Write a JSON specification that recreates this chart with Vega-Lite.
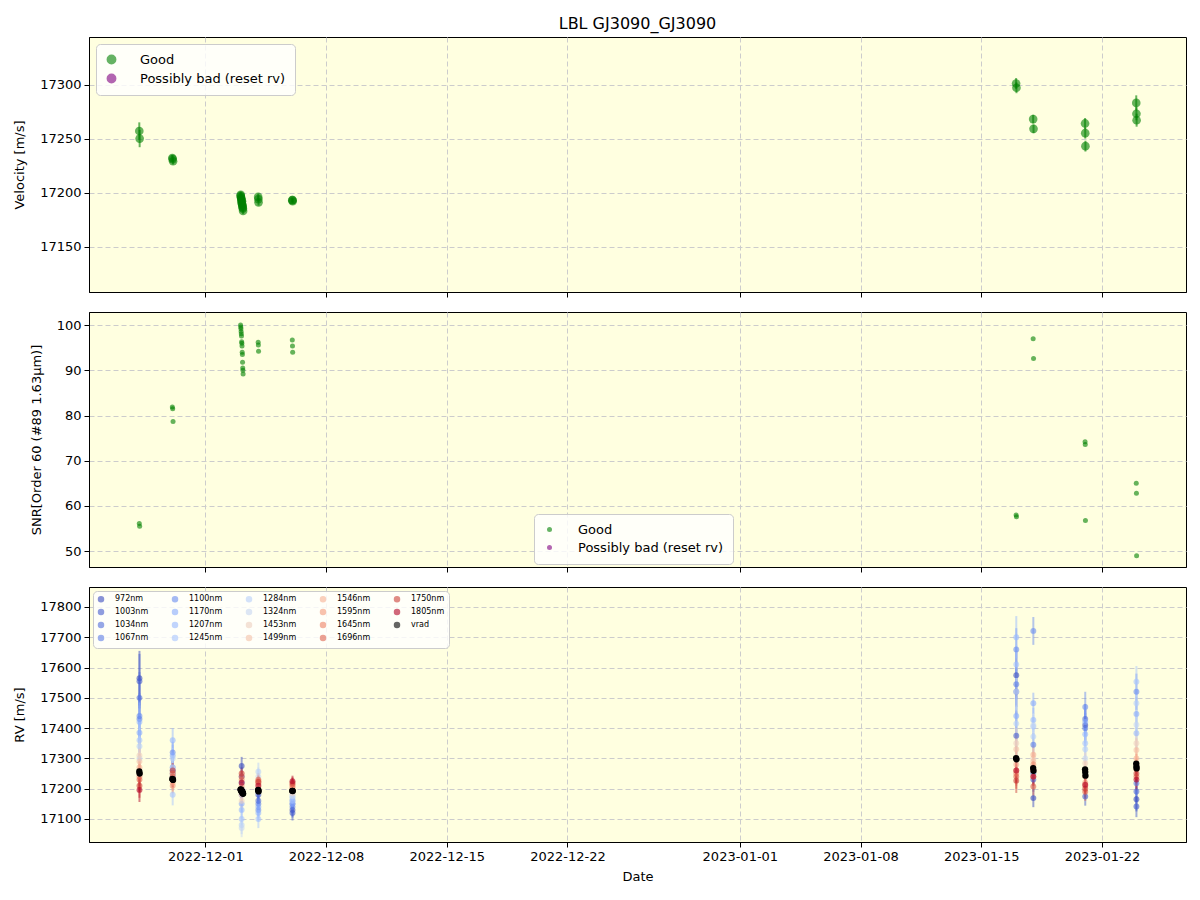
{
  "$schema": "https://vega.github.io/schema/vega-lite/v6.json",
  "padding": {"left": 13, "top": 15, "right": 8, "bottom": 10},
  "title": {"text": "LBL GJ3090_GJ3090", "fontSize": 16, "fontWeight": "normal", "anchor": "middle", "frame": "group", "offset": 5, "color": "black"},
  "config": {
    "font": "DejaVu Sans",
    "view": {"fill": "#ffffe0", "stroke": "black", "strokeWidth": 1},
    "axis": {"gridDash": [5, 3], "gridColor": "#cccccc", "gridWidth": 1, "labelFontSize": 13, "titleFontSize": 13, "titleFontWeight": "normal", "tickColor": "black", "domainColor": "black", "labelColor": "black", "titleColor": "black", "tickSize": 5, "labelPadding": 3},
    "axisY": {"titlePadding": 13},
    "legend": {"labelFontSize": 13, "labelColor": "black", "fillColor": "rgba(255,255,255,0.8)", "strokeColor": "#cccccc", "cornerRadius": 4, "padding": 8, "symbolType": "circle", "title": null}
  },
  "datasets": {
    "obs": [
      {"date": "2022-11-27T04:00:00Z", "rv": 17257, "err": 8, "snr": 56.1, "flag": "Good"},
      {"date": "2022-11-27T04:30:00Z", "rv": 17250, "err": 8, "snr": 55.5, "flag": "Good"},
      {"date": "2022-11-29T02:00:00Z", "rv": 17232, "err": 3, "snr": 81.9, "flag": "Good"},
      {"date": "2022-11-29T02:30:00Z", "rv": 17231, "err": 3, "snr": 81.5, "flag": "Good"},
      {"date": "2022-11-29T03:00:00Z", "rv": 17229, "err": 3, "snr": 78.7, "flag": "Good"},
      {"date": "2022-12-03T01:00:00Z", "rv": 17197, "err": 3, "snr": 100.0, "flag": "Good"},
      {"date": "2022-12-03T01:15:00Z", "rv": 17198, "err": 3, "snr": 99.6, "flag": "Good"},
      {"date": "2022-12-03T01:30:00Z", "rv": 17196, "err": 3, "snr": 99.2, "flag": "Good"},
      {"date": "2022-12-03T01:45:00Z", "rv": 17195, "err": 3, "snr": 98.6, "flag": "Good"},
      {"date": "2022-12-03T02:00:00Z", "rv": 17194, "err": 3, "snr": 98.1, "flag": "Good"},
      {"date": "2022-12-03T02:15:00Z", "rv": 17193, "err": 3, "snr": 97.6, "flag": "Good"},
      {"date": "2022-12-03T02:30:00Z", "rv": 17191, "err": 3, "snr": 96.3, "flag": "Good"},
      {"date": "2022-12-03T02:45:00Z", "rv": 17190, "err": 3, "snr": 96.0, "flag": "Good"},
      {"date": "2022-12-03T03:00:00Z", "rv": 17192, "err": 3, "snr": 95.4, "flag": "Good"},
      {"date": "2022-12-03T03:15:00Z", "rv": 17189, "err": 3, "snr": 94.0, "flag": "Good"},
      {"date": "2022-12-03T03:30:00Z", "rv": 17188, "err": 3, "snr": 93.5, "flag": "Good"},
      {"date": "2022-12-03T03:45:00Z", "rv": 17187, "err": 3, "snr": 91.8, "flag": "Good"},
      {"date": "2022-12-03T04:00:00Z", "rv": 17186, "err": 3, "snr": 90.5, "flag": "Good"},
      {"date": "2022-12-03T04:15:00Z", "rv": 17185, "err": 3, "snr": 90.0, "flag": "Good"},
      {"date": "2022-12-03T04:30:00Z", "rv": 17183, "err": 3, "snr": 89.2, "flag": "Good"},
      {"date": "2022-12-04T01:30:00Z", "rv": 17196, "err": 3, "snr": 96.2, "flag": "Good"},
      {"date": "2022-12-04T01:45:00Z", "rv": 17194, "err": 3, "snr": 95.6, "flag": "Good"},
      {"date": "2022-12-04T02:00:00Z", "rv": 17191, "err": 3, "snr": 94.2, "flag": "Good"},
      {"date": "2022-12-06T01:00:00Z", "rv": 17193, "err": 2, "snr": 96.7, "flag": "Good"},
      {"date": "2022-12-06T01:15:00Z", "rv": 17193, "err": 2, "snr": 95.4, "flag": "Good"},
      {"date": "2022-12-06T01:30:00Z", "rv": 17192, "err": 2, "snr": 94.0, "flag": "Good"},
      {"date": "2023-01-17T00:30:00Z", "rv": 17301, "err": 5, "snr": 58.0, "flag": "Good"},
      {"date": "2023-01-17T01:00:00Z", "rv": 17297, "err": 5, "snr": 57.6, "flag": "Good"},
      {"date": "2023-01-18T00:15:00Z", "rv": 17268, "err": 4, "snr": 97.0, "flag": "Good"},
      {"date": "2023-01-18T00:45:00Z", "rv": 17259, "err": 4, "snr": 92.6, "flag": "Good"},
      {"date": "2023-01-21T00:30:00Z", "rv": 17264, "err": 5, "snr": 74.2, "flag": "Good"},
      {"date": "2023-01-21T00:45:00Z", "rv": 17255, "err": 5, "snr": 73.6, "flag": "Good"},
      {"date": "2023-01-21T01:00:00Z", "rv": 17243, "err": 5, "snr": 56.8, "flag": "Good"},
      {"date": "2023-01-23T23:45:00Z", "rv": 17283, "err": 7, "snr": 65.0, "flag": "Good"},
      {"date": "2023-01-24T00:00:00Z", "rv": 17273, "err": 6, "snr": 62.8, "flag": "Good"},
      {"date": "2023-01-24T00:15:00Z", "rv": 17267, "err": 6, "snr": 49.0, "flag": "Good"}
    ],
    "bands": [
      {"date": "2022-11-27T04:15:00Z", "band": "972nm", "rv": 17565, "err": 90},
      {"date": "2022-11-27T04:15:00Z", "band": "1003nm", "rv": 17555, "err": 90},
      {"date": "2022-11-27T04:15:00Z", "band": "1034nm", "rv": 17500, "err": 85},
      {"date": "2022-11-27T04:15:00Z", "band": "1067nm", "rv": 17430, "err": 85},
      {"date": "2022-11-27T04:15:00Z", "band": "1100nm", "rv": 17440, "err": 70},
      {"date": "2022-11-27T04:15:00Z", "band": "1170nm", "rv": 17385, "err": 65},
      {"date": "2022-11-27T04:15:00Z", "band": "1207nm", "rv": 17420, "err": 65},
      {"date": "2022-11-27T04:15:00Z", "band": "1245nm", "rv": 17360, "err": 60},
      {"date": "2022-11-27T04:15:00Z", "band": "1284nm", "rv": 17340, "err": 60},
      {"date": "2022-11-27T04:15:00Z", "band": "1324nm", "rv": 17300, "err": 55},
      {"date": "2022-11-27T04:15:00Z", "band": "1453nm", "rv": 17310, "err": 50},
      {"date": "2022-11-27T04:15:00Z", "band": "1499nm", "rv": 17290, "err": 45},
      {"date": "2022-11-27T04:15:00Z", "band": "1546nm", "rv": 17270, "err": 45},
      {"date": "2022-11-27T04:15:00Z", "band": "1595nm", "rv": 17250, "err": 40},
      {"date": "2022-11-27T04:15:00Z", "band": "1645nm", "rv": 17240, "err": 40},
      {"date": "2022-11-27T04:15:00Z", "band": "1696nm", "rv": 17230, "err": 40},
      {"date": "2022-11-27T04:15:00Z", "band": "1750nm", "rv": 17210, "err": 40},
      {"date": "2022-11-27T04:15:00Z", "band": "1805nm", "rv": 17196, "err": 40},
      {"date": "2022-11-29T02:30:00Z", "band": "972nm", "rv": 17250, "err": 40},
      {"date": "2022-11-29T02:30:00Z", "band": "1003nm", "rv": 17260, "err": 40},
      {"date": "2022-11-29T02:30:00Z", "band": "1034nm", "rv": 17240, "err": 38},
      {"date": "2022-11-29T02:30:00Z", "band": "1067nm", "rv": 17270, "err": 38},
      {"date": "2022-11-29T02:30:00Z", "band": "1100nm", "rv": 17320, "err": 35},
      {"date": "2022-11-29T02:30:00Z", "band": "1170nm", "rv": 17310, "err": 35},
      {"date": "2022-11-29T02:30:00Z", "band": "1207nm", "rv": 17360, "err": 40},
      {"date": "2022-11-29T02:30:00Z", "band": "1245nm", "rv": 17180, "err": 35},
      {"date": "2022-11-29T02:30:00Z", "band": "1284nm", "rv": 17300, "err": 35},
      {"date": "2022-11-29T02:30:00Z", "band": "1324nm", "rv": 17270, "err": 30},
      {"date": "2022-11-29T02:30:00Z", "band": "1453nm", "rv": 17250, "err": 30},
      {"date": "2022-11-29T02:30:00Z", "band": "1499nm", "rv": 17230, "err": 28},
      {"date": "2022-11-29T02:30:00Z", "band": "1546nm", "rv": 17220, "err": 28},
      {"date": "2022-11-29T02:30:00Z", "band": "1595nm", "rv": 17210, "err": 25},
      {"date": "2022-11-29T02:30:00Z", "band": "1645nm", "rv": 17250, "err": 25},
      {"date": "2022-11-29T02:30:00Z", "band": "1696nm", "rv": 17240, "err": 25},
      {"date": "2022-11-29T02:30:00Z", "band": "1750nm", "rv": 17260, "err": 25},
      {"date": "2022-11-29T02:30:00Z", "band": "1805nm", "rv": 17230, "err": 25},
      {"date": "2022-12-03T02:30:00Z", "band": "972nm", "rv": 17275, "err": 30},
      {"date": "2022-12-03T02:30:00Z", "band": "1003nm", "rv": 17240, "err": 30},
      {"date": "2022-12-03T02:30:00Z", "band": "1034nm", "rv": 17220, "err": 30},
      {"date": "2022-12-03T02:30:00Z", "band": "1067nm", "rv": 17200, "err": 30},
      {"date": "2022-12-03T02:30:00Z", "band": "1100nm", "rv": 17180, "err": 28},
      {"date": "2022-12-03T02:30:00Z", "band": "1170nm", "rv": 17150, "err": 28},
      {"date": "2022-12-03T02:30:00Z", "band": "1207nm", "rv": 17130, "err": 28},
      {"date": "2022-12-03T02:30:00Z", "band": "1245nm", "rv": 17100, "err": 30},
      {"date": "2022-12-03T02:30:00Z", "band": "1284nm", "rv": 17080, "err": 30},
      {"date": "2022-12-03T02:30:00Z", "band": "1324nm", "rv": 17070, "err": 30},
      {"date": "2022-12-03T02:30:00Z", "band": "1453nm", "rv": 17160, "err": 25},
      {"date": "2022-12-03T02:30:00Z", "band": "1499nm", "rv": 17180, "err": 22},
      {"date": "2022-12-03T02:30:00Z", "band": "1546nm", "rv": 17200, "err": 22},
      {"date": "2022-12-03T02:30:00Z", "band": "1595nm", "rv": 17210, "err": 20},
      {"date": "2022-12-03T02:30:00Z", "band": "1645nm", "rv": 17230, "err": 20},
      {"date": "2022-12-03T02:30:00Z", "band": "1696nm", "rv": 17240, "err": 20},
      {"date": "2022-12-03T02:30:00Z", "band": "1750nm", "rv": 17250, "err": 20},
      {"date": "2022-12-03T02:30:00Z", "band": "1805nm", "rv": 17220, "err": 20},
      {"date": "2022-12-04T01:45:00Z", "band": "972nm", "rv": 17190, "err": 30},
      {"date": "2022-12-04T01:45:00Z", "band": "1003nm", "rv": 17180, "err": 30},
      {"date": "2022-12-04T01:45:00Z", "band": "1034nm", "rv": 17160, "err": 30},
      {"date": "2022-12-04T01:45:00Z", "band": "1067nm", "rv": 17150, "err": 30},
      {"date": "2022-12-04T01:45:00Z", "band": "1100nm", "rv": 17130, "err": 28},
      {"date": "2022-12-04T01:45:00Z", "band": "1170nm", "rv": 17140, "err": 28},
      {"date": "2022-12-04T01:45:00Z", "band": "1207nm", "rv": 17120, "err": 28},
      {"date": "2022-12-04T01:45:00Z", "band": "1245nm", "rv": 17100, "err": 30},
      {"date": "2022-12-04T01:45:00Z", "band": "1284nm", "rv": 17256, "err": 30},
      {"date": "2022-12-04T01:45:00Z", "band": "1324nm", "rv": 17240, "err": 30},
      {"date": "2022-12-04T01:45:00Z", "band": "1453nm", "rv": 17210, "err": 25},
      {"date": "2022-12-04T01:45:00Z", "band": "1499nm", "rv": 17200, "err": 22},
      {"date": "2022-12-04T01:45:00Z", "band": "1546nm", "rv": 17215, "err": 22},
      {"date": "2022-12-04T01:45:00Z", "band": "1595nm", "rv": 17220, "err": 20},
      {"date": "2022-12-04T01:45:00Z", "band": "1645nm", "rv": 17225, "err": 20},
      {"date": "2022-12-04T01:45:00Z", "band": "1696nm", "rv": 17230, "err": 20},
      {"date": "2022-12-04T01:45:00Z", "band": "1750nm", "rv": 17222, "err": 20},
      {"date": "2022-12-04T01:45:00Z", "band": "1805nm", "rv": 17210, "err": 20},
      {"date": "2022-12-06T01:15:00Z", "band": "972nm", "rv": 17130, "err": 25},
      {"date": "2022-12-06T01:15:00Z", "band": "1003nm", "rv": 17120, "err": 25},
      {"date": "2022-12-06T01:15:00Z", "band": "1034nm", "rv": 17150, "err": 25},
      {"date": "2022-12-06T01:15:00Z", "band": "1067nm", "rv": 17140, "err": 25},
      {"date": "2022-12-06T01:15:00Z", "band": "1100nm", "rv": 17160, "err": 22},
      {"date": "2022-12-06T01:15:00Z", "band": "1170nm", "rv": 17150, "err": 22},
      {"date": "2022-12-06T01:15:00Z", "band": "1207nm", "rv": 17170, "err": 22},
      {"date": "2022-12-06T01:15:00Z", "band": "1245nm", "rv": 17160, "err": 22},
      {"date": "2022-12-06T01:15:00Z", "band": "1284nm", "rv": 17180, "err": 22},
      {"date": "2022-12-06T01:15:00Z", "band": "1324nm", "rv": 17175, "err": 20},
      {"date": "2022-12-06T01:15:00Z", "band": "1453nm", "rv": 17185, "err": 20},
      {"date": "2022-12-06T01:15:00Z", "band": "1499nm", "rv": 17195, "err": 18},
      {"date": "2022-12-06T01:15:00Z", "band": "1546nm", "rv": 17200, "err": 18},
      {"date": "2022-12-06T01:15:00Z", "band": "1595nm", "rv": 17205, "err": 18},
      {"date": "2022-12-06T01:15:00Z", "band": "1645nm", "rv": 17210, "err": 18},
      {"date": "2022-12-06T01:15:00Z", "band": "1696nm", "rv": 17215, "err": 18},
      {"date": "2022-12-06T01:15:00Z", "band": "1750nm", "rv": 17220, "err": 18},
      {"date": "2022-12-06T01:15:00Z", "band": "1805nm", "rv": 17225, "err": 18},
      {"date": "2023-01-17T00:45:00Z", "band": "972nm", "rv": 17575, "err": 80},
      {"date": "2023-01-17T00:45:00Z", "band": "1003nm", "rv": 17375, "err": 80},
      {"date": "2023-01-17T00:45:00Z", "band": "1034nm", "rv": 17520, "err": 75},
      {"date": "2023-01-17T00:45:00Z", "band": "1067nm", "rv": 17545, "err": 75},
      {"date": "2023-01-17T00:45:00Z", "band": "1100nm", "rv": 17660, "err": 70},
      {"date": "2023-01-17T00:45:00Z", "band": "1170nm", "rv": 17440, "err": 65},
      {"date": "2023-01-17T00:45:00Z", "band": "1207nm", "rv": 17700, "err": 70},
      {"date": "2023-01-17T00:45:00Z", "band": "1245nm", "rv": 17610, "err": 65},
      {"date": "2023-01-17T00:45:00Z", "band": "1284nm", "rv": 17415, "err": 60},
      {"date": "2023-01-17T00:45:00Z", "band": "1324nm", "rv": 17520, "err": 60},
      {"date": "2023-01-17T00:45:00Z", "band": "1453nm", "rv": 17350, "err": 50},
      {"date": "2023-01-17T00:45:00Z", "band": "1499nm", "rv": 17330, "err": 45},
      {"date": "2023-01-17T00:45:00Z", "band": "1546nm", "rv": 17280, "err": 45},
      {"date": "2023-01-17T00:45:00Z", "band": "1595nm", "rv": 17260, "err": 40},
      {"date": "2023-01-17T00:45:00Z", "band": "1645nm", "rv": 17250, "err": 40},
      {"date": "2023-01-17T00:45:00Z", "band": "1696nm", "rv": 17240, "err": 40},
      {"date": "2023-01-17T00:45:00Z", "band": "1750nm", "rv": 17226, "err": 40},
      {"date": "2023-01-17T00:45:00Z", "band": "1805nm", "rv": 17260, "err": 40},
      {"date": "2023-01-18T00:30:00Z", "band": "972nm", "rv": 17169, "err": 30},
      {"date": "2023-01-18T00:30:00Z", "band": "1003nm", "rv": 17230, "err": 40},
      {"date": "2023-01-18T00:30:00Z", "band": "1034nm", "rv": 17250, "err": 40},
      {"date": "2023-01-18T00:30:00Z", "band": "1067nm", "rv": 17345, "err": 40},
      {"date": "2023-01-18T00:30:00Z", "band": "1100nm", "rv": 17721, "err": 46},
      {"date": "2023-01-18T00:30:00Z", "band": "1170nm", "rv": 17482, "err": 35},
      {"date": "2023-01-18T00:30:00Z", "band": "1207nm", "rv": 17427, "err": 40},
      {"date": "2023-01-18T00:30:00Z", "band": "1245nm", "rv": 17405, "err": 40},
      {"date": "2023-01-18T00:30:00Z", "band": "1284nm", "rv": 17372, "err": 40},
      {"date": "2023-01-18T00:30:00Z", "band": "1324nm", "rv": 17410, "err": 40},
      {"date": "2023-01-18T00:30:00Z", "band": "1453nm", "rv": 17300, "err": 32},
      {"date": "2023-01-18T00:30:00Z", "band": "1499nm", "rv": 17290, "err": 30},
      {"date": "2023-01-18T00:30:00Z", "band": "1546nm", "rv": 17312, "err": 30},
      {"date": "2023-01-18T00:30:00Z", "band": "1595nm", "rv": 17280, "err": 30},
      {"date": "2023-01-18T00:30:00Z", "band": "1645nm", "rv": 17240, "err": 30},
      {"date": "2023-01-18T00:30:00Z", "band": "1696nm", "rv": 17207, "err": 30},
      {"date": "2023-01-18T00:30:00Z", "band": "1750nm", "rv": 17260, "err": 30},
      {"date": "2023-01-18T00:30:00Z", "band": "1805nm", "rv": 17240, "err": 30},
      {"date": "2023-01-21T00:45:00Z", "band": "972nm", "rv": 17410, "err": 50},
      {"date": "2023-01-21T00:45:00Z", "band": "1003nm", "rv": 17174, "err": 30},
      {"date": "2023-01-21T00:45:00Z", "band": "1034nm", "rv": 17430, "err": 50},
      {"date": "2023-01-21T00:45:00Z", "band": "1067nm", "rv": 17400, "err": 50},
      {"date": "2023-01-21T00:45:00Z", "band": "1100nm", "rv": 17470, "err": 50},
      {"date": "2023-01-21T00:45:00Z", "band": "1170nm", "rv": 17420, "err": 45},
      {"date": "2023-01-21T00:45:00Z", "band": "1207nm", "rv": 17380, "err": 45},
      {"date": "2023-01-21T00:45:00Z", "band": "1245nm", "rv": 17350, "err": 45},
      {"date": "2023-01-21T00:45:00Z", "band": "1284nm", "rv": 17330, "err": 45},
      {"date": "2023-01-21T00:45:00Z", "band": "1324nm", "rv": 17300, "err": 40},
      {"date": "2023-01-21T00:45:00Z", "band": "1453nm", "rv": 17284, "err": 35},
      {"date": "2023-01-21T00:45:00Z", "band": "1499nm", "rv": 17260, "err": 30},
      {"date": "2023-01-21T00:45:00Z", "band": "1546nm", "rv": 17240, "err": 30},
      {"date": "2023-01-21T00:45:00Z", "band": "1595nm", "rv": 17220, "err": 30},
      {"date": "2023-01-21T00:45:00Z", "band": "1645nm", "rv": 17210, "err": 30},
      {"date": "2023-01-21T00:45:00Z", "band": "1696nm", "rv": 17190, "err": 30},
      {"date": "2023-01-21T00:45:00Z", "band": "1750nm", "rv": 17200, "err": 30},
      {"date": "2023-01-21T00:45:00Z", "band": "1805nm", "rv": 17213, "err": 30},
      {"date": "2023-01-24T00:00:00Z", "band": "972nm", "rv": 17165, "err": 40},
      {"date": "2023-01-24T00:00:00Z", "band": "1003nm", "rv": 17141, "err": 35},
      {"date": "2023-01-24T00:00:00Z", "band": "1034nm", "rv": 17191, "err": 40},
      {"date": "2023-01-24T00:00:00Z", "band": "1067nm", "rv": 17218, "err": 40},
      {"date": "2023-01-24T00:00:00Z", "band": "1100nm", "rv": 17520, "err": 60},
      {"date": "2023-01-24T00:00:00Z", "band": "1170nm", "rv": 17447, "err": 55},
      {"date": "2023-01-24T00:00:00Z", "band": "1207nm", "rv": 17383, "err": 55},
      {"date": "2023-01-24T00:00:00Z", "band": "1245nm", "rv": 17553, "err": 52},
      {"date": "2023-01-24T00:00:00Z", "band": "1284nm", "rv": 17482, "err": 50},
      {"date": "2023-01-24T00:00:00Z", "band": "1324nm", "rv": 17411, "err": 50},
      {"date": "2023-01-24T00:00:00Z", "band": "1453nm", "rv": 17350, "err": 40},
      {"date": "2023-01-24T00:00:00Z", "band": "1499nm", "rv": 17328, "err": 38},
      {"date": "2023-01-24T00:00:00Z", "band": "1546nm", "rv": 17300, "err": 35},
      {"date": "2023-01-24T00:00:00Z", "band": "1595nm", "rv": 17280, "err": 35},
      {"date": "2023-01-24T00:00:00Z", "band": "1645nm", "rv": 17265, "err": 35},
      {"date": "2023-01-24T00:00:00Z", "band": "1696nm", "rv": 17240, "err": 35},
      {"date": "2023-01-24T00:00:00Z", "band": "1750nm", "rv": 17250, "err": 35},
      {"date": "2023-01-24T00:00:00Z", "band": "1805nm", "rv": 17230, "err": 35}
    ]
  },
  "resolve": {"scale": {"color": "independent"}, "legend": {"color": "independent"}},
  "spacing": 13,
  "vconcat": [
    {
      "width": 1097, "height": 255,
      "data": {"name": "obs"},
      "encoding": {
        "x": {"field": "date", "type": "temporal", "scale": {"type": "utc", "domain": [{"year": 2022, "month": 11, "date": 24, "hours": 6, "utc": true}, {"year": 2023, "month": 1, "date": 26, "hours": 21, "utc": true}]},
          "axis": {"labels": false, "title": null, "values": [{"year": 2022, "month": 12, "date": 1, "utc": true}, {"year": 2022, "month": 12, "date": 8, "utc": true}, {"year": 2022, "month": 12, "date": 15, "utc": true}, {"year": 2022, "month": 12, "date": 22, "utc": true}, {"year": 2023, "month": 1, "date": 1, "utc": true}, {"year": 2023, "month": 1, "date": 8, "utc": true}, {"year": 2023, "month": 1, "date": 15, "utc": true}, {"year": 2023, "month": 1, "date": 22, "utc": true}]}},
        "color": {"field": "flag", "type": "nominal", "scale": {"domain": ["Good", "Possibly bad (reset rv)"], "range": ["green", "purple"]},
          "legend": {"orient": "top-left", "offset": 7, "symbolOpacity": 0.6, "symbolSize": 70, "labelFontSize": 13, "padding": 9, "labelOffset": 22, "rowPadding": 4}}
      },
      "layer": [
        {"mark": {"type": "errorbar", "ticks": false, "thickness": 2, "opacity": 0.6},
         "encoding": {"y": {"field": "rv", "type": "quantitative", "title": "Velocity [m/s]", "scale": {"domain": [17108, 17344], "zero": false, "nice": false}, "axis": {"values": [17150, 17200, 17250, 17300], "format": "d"}}, "yError": {"field": "err"}}},
        {"mark": {"type": "point", "filled": true, "shape": "circle", "size": 75, "opacity": 0.6},
         "encoding": {"y": {"field": "rv", "type": "quantitative"}}}
      ]
    },
    {
      "width": 1097, "height": 255,
      "data": {"name": "obs"},
      "mark": {"type": "point", "filled": true, "shape": "circle", "size": 25, "opacity": 0.6},
      "encoding": {
        "x": {"field": "date", "type": "temporal", "scale": {"type": "utc", "domain": [{"year": 2022, "month": 11, "date": 24, "hours": 6, "utc": true}, {"year": 2023, "month": 1, "date": 26, "hours": 21, "utc": true}]},
          "axis": {"labels": false, "title": null, "values": [{"year": 2022, "month": 12, "date": 1, "utc": true}, {"year": 2022, "month": 12, "date": 8, "utc": true}, {"year": 2022, "month": 12, "date": 15, "utc": true}, {"year": 2022, "month": 12, "date": 22, "utc": true}, {"year": 2023, "month": 1, "date": 1, "utc": true}, {"year": 2023, "month": 1, "date": 8, "utc": true}, {"year": 2023, "month": 1, "date": 15, "utc": true}, {"year": 2023, "month": 1, "date": 22, "utc": true}]}},
        "y": {"field": "snr", "type": "quantitative", "title": "SNR[Order 60 (#89 1.63μm)]", "scale": {"domain": [46.5, 102.9], "zero": false, "nice": false}, "axis": {"values": [50, 60, 70, 80, 90, 100]}},
        "color": {"field": "flag", "type": "nominal", "scale": {"domain": ["Good", "Possibly bad (reset rv)"], "range": ["green", "purple"]},
          "legend": {"orient": "none", "legendX": 445, "legendY": 202, "symbolOpacity": 0.6, "symbolSize": 25, "labelFontSize": 13, "padding": 9, "labelOffset": 22, "rowPadding": 4}}
      }
    },
    {
      "width": 1097, "height": 255,
      "encoding": {
        "x": {"field": "date", "type": "temporal", "scale": {"type": "utc", "domain": [{"year": 2022, "month": 11, "date": 24, "hours": 6, "utc": true}, {"year": 2023, "month": 1, "date": 26, "hours": 21, "utc": true}]},
          "axis": {"title": "Date", "titlePadding": 7, "labelExpr": "utcFormat(datum.value, '%Y-%m-%d')", "labelAngle": 0, "values": [{"year": 2022, "month": 12, "date": 1, "utc": true}, {"year": 2022, "month": 12, "date": 8, "utc": true}, {"year": 2022, "month": 12, "date": 15, "utc": true}, {"year": 2022, "month": 12, "date": 22, "utc": true}, {"year": 2023, "month": 1, "date": 1, "utc": true}, {"year": 2023, "month": 1, "date": 8, "utc": true}, {"year": 2023, "month": 1, "date": 15, "utc": true}, {"year": 2023, "month": 1, "date": 22, "utc": true}]}},
        "y": {"field": "rv", "type": "quantitative", "title": "RV [m/s]", "scale": {"domain": [17024, 17866], "zero": false, "nice": false}, "axis": {"values": [17100, 17200, 17300, 17400, 17500, 17600, 17700, 17800], "format": "d"}}
      },
      "layer": [
        {"data": {"name": "bands"},
         "mark": {"type": "errorbar", "ticks": false, "thickness": 2, "opacity": 0.5},
         "encoding": {"yError": {"field": "err"},
           "color": {"field": "band", "type": "nominal",
             "scale": {"domain": ["972nm", "1003nm", "1034nm", "1067nm", "1100nm", "1170nm", "1207nm", "1245nm", "1284nm", "1324nm", "1453nm", "1499nm", "1546nm", "1595nm", "1645nm", "1696nm", "1750nm", "1805nm", "vrad"],
               "range": ["#3b4cc0", "#465dce", "#516ddb", "#5e7ee7", "#6b8df0", "#89acfd", "#98b9ff", "#a8c5fe", "#b8d0f9", "#c7d7f1", "#eed0bf", "#f5c2a9", "#f7b194", "#f49b7c", "#ed8165", "#df634f", "#cc4039", "#b40426", "#000000"]},
             "legend": {"orient": "top-left", "offset": 4, "columns": 5, "labelFontSize": 8, "symbolSize": 25, "symbolOpacity": 0.7, "columnPadding": 20, "rowPadding": 1, "padding": 4, "labelOffset": 10}}}},
        {"data": {"name": "bands"},
         "mark": {"type": "point", "filled": true, "shape": "circle", "size": 35, "opacity": 0.6},
         "encoding": {"color": {"field": "band", "type": "nominal"}}},
        {"data": {"name": "obs"},
         "mark": {"type": "errorbar", "ticks": false, "thickness": 1.5, "color": "black"},
         "encoding": {"yError": {"field": "err"}}},
        {"data": {"name": "obs"},
         "mark": {"type": "point", "filled": true, "shape": "circle", "size": 40, "opacity": 1},
         "encoding": {"color": {"datum": "vrad"}}}
      ]
    }
  ]
}
